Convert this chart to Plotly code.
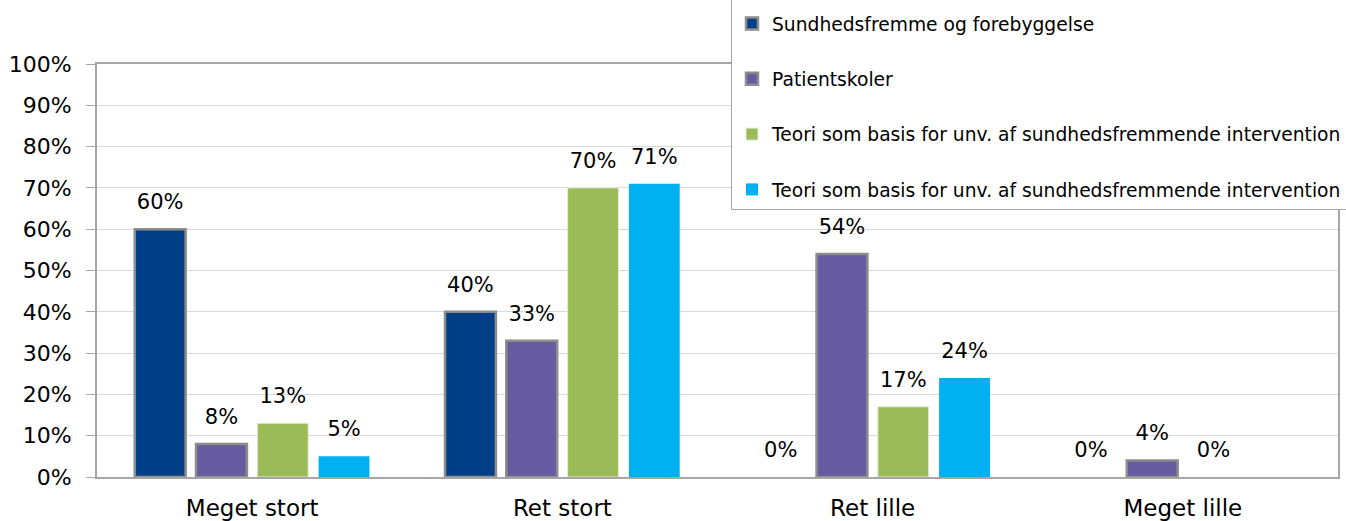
import plotly.graph_objects as go

categories = ["Meget stort", "Ret stort", "Ret lille", "Meget lille"]
series_names = [
    "Sundhedsfremme og forebyggelse",
    "Patientskoler",
    "Teori som basis for unv. af sundhedsfremmende intervention",
    "Teori som basis for unv. af sundhedsfremmende intervention",
]
s1 = [0.60, 0.40, 0.00, 0.00]
s2 = [0.08, 0.33, 0.54, 0.04]
s3 = [0.13, 0.70, 0.17, 0.00]
s4 = [0.05, 0.71, 0.24, None]
y_ticks = [0, 0.1, 0.2, 0.3, 0.4, 0.5, 0.6, 0.7, 0.8, 0.9, 1.0]

colors = ["#003F87", "#665AA0", "#9BBB59", "#00B0F0"]
line_colors = ["#8C8C8C", "#8C8C8C", "#E3ECD0", "#00B0F0"]
line_widths = [2.5, 2.5, 1, 0]

FONT = "DejaVu Sans"
BARGAP = 0.21

fig = go.Figure()
for i, (name, vals) in enumerate(zip(series_names, [s1, s2, s3, s4])):
    widths = [line_widths[i] if v else 0 for v in vals]
    fig.add_trace(go.Bar(
        x=categories, y=vals, name=name,
        legendgroup=f"g{i}", offsetgroup=f"o{i}",
        marker=dict(color=colors[i], line=dict(color=line_colors[i], width=widths)),
        hoverinfo="skip",
    ))
for i, vals in enumerate([s1, s2, s3, s4]):
    fig.add_trace(go.Scatter(
        x=categories, y=vals, mode="markers+text",
        offsetgroup=f"o{i}", showlegend=False, legendgroup=f"g{i}",
        marker=dict(size=22, opacity=0),
        text=[f"{round(v * 100)}%" if v is not None else "" for v in vals],
        textposition="top center",
        textfont=dict(size=21, color="#000000", family=FONT),
        cliponaxis=False, hoverinfo="skip",
    ))

fig.update_layout(
    width=1346, height=521,
    margin=dict(l=97, r=8, t=64, b=44, autoexpand=False),
    paper_bgcolor="white", plot_bgcolor="white",
    barmode="group", bargap=BARGAP, bargroupgap=0.17,
    scattermode="group", scattergap=BARGAP,
    font=dict(family=FONT, size=21, color="#000000"),
    showlegend=True,
    legend=dict(
        xref="paper", yref="paper",
        x=(731 - 97) / 1241, y=1 + 68 / 413, xanchor="left", yanchor="top",
        bgcolor="white", bordercolor="#A6A6A6", borderwidth=1,
        font=dict(size=18.7, family=FONT),
        tracegroupgap=28,
        title=dict(text=" ", font=dict(size=6)),
    ),
)
fig.update_yaxes(
    range=[0, 1], tickvals=y_ticks, tickformat=".0%",
    showgrid=True, gridcolor="#D9D9D9", gridwidth=1,
    showline=True, linecolor="#A6A6A6", linewidth=2, mirror=True,
    ticks="outside", ticklen=9, tickcolor="#A6A6A6",
    tickfont=dict(size=22, family=FONT), zeroline=False,
    ticklabelstandoff=10, fixedrange=True,
)
fig.update_xaxes(
    showline=True, linecolor="#A6A6A6", linewidth=2, mirror=True,
    ticks="", tickfont=dict(size=23, family=FONT), ticklabelstandoff=9,
    fixedrange=True,
)

fig.write_html(
    "out.html",
    config={"displayModeBar": False, "staticPlot": True},
    post_script="document.body.style.margin='0';document.body.style.overflow='hidden';",
)
